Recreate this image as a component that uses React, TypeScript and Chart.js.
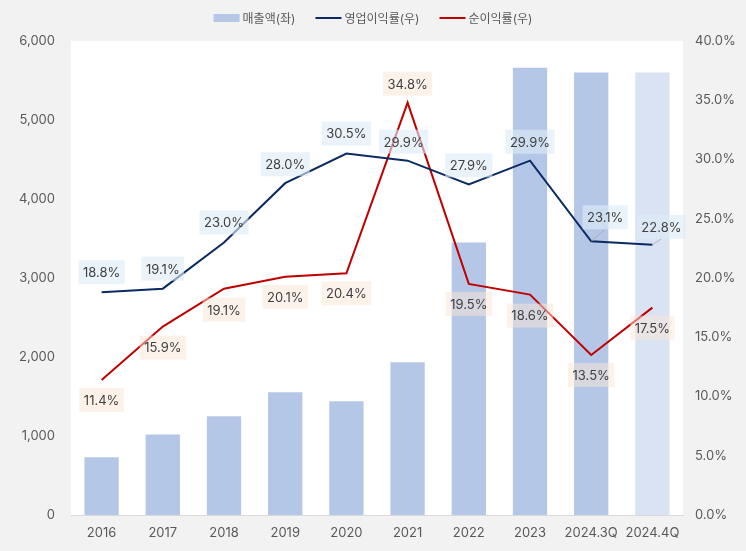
import React, { useEffect, useRef } from "react";
import { Chart, registerables } from "chart.js";

Chart.register(...registerables);

const categories = ["2016", "2017", "2018", "2019", "2020", "2021", "2022", "2023", "2024.3Q", "2024.4Q"];
const sales = [730, 1020, 1250, 1555, 1440, 1935, 3450, 5660, 5600, 5600];
const operatingMargin = [18.8, 19.1, 23.0, 28.0, 30.5, 29.9, 27.9, 29.9, 23.1, 22.8];
const netMargin = [11.4, 15.9, 19.1, 20.1, 20.4, 34.8, 19.5, 18.6, 13.5, 17.5];
const leftTicks = [0, 1000, 2000, 3000, 4000, 5000, 6000];
const rightTicks = [0, 5, 10, 15, 20, 25, 30, 35, 40];

// label placement (dx, dy from point) and leader-line flags
const opLabelOffset: [number, number][] = [
  [0, -20], [0, -20], [0, -20], [0, -19], [0, -20], [-4, -19], [0, -19], [0, -19], [14, -24], [9, -18],
];
const opLeader = [false, false, false, false, false, false, false, false, true, true];
const netLabelOffset: [number, number][] = [
  [0, 20], [0, 21], [0, 21], [0, 20], [0, 20], [0, -19], [0, 20], [0, 21], [0, 20], [0, 20],
];
const netLeader = [false, false, false, false, false, false, false, false, false, false];

const FONT = "Inter, 'Noto Sans CJK KR', 'Noto Sans', sans-serif";
const BAR_COLOR = "#B4C7E7";
const BAR_LIGHT = "#DAE3F3";
const OP_COLOR = "#0B2A63";
const NET_COLOR = "#C00000";

const bgPlugin = {
  id: "bgPlugin",
  beforeDraw(chart: any) {
    const { ctx, chartArea, width, height } = chart;
    ctx.save();
    ctx.fillStyle = "#F2F2F2";
    ctx.fillRect(0, 0, width, height);
    ctx.fillStyle = "#FFFFFF";
    ctx.fillRect(chartArea.left, chartArea.top, chartArea.right - chartArea.left, chartArea.bottom - chartArea.top);
    ctx.restore();
  },
};

const labelPlugin = {
  id: "valueLabels",
  afterDatasetsDraw(chart: any) {
    const ctx = chart.ctx;
    const specs = [
      { idx: 1, offs: opLabelOffset, leader: opLeader, bg: "rgba(222,235,247,0.62)" },
      { idx: 2, offs: netLabelOffset, leader: netLeader, bg: "rgba(251,229,214,0.5)" },
    ];
    ctx.save();
    ctx.font = `13px ${FONT}`;
    ctx.textAlign = "center";
    ctx.textBaseline = "middle";
    specs.forEach((s) => {
      const meta = chart.getDatasetMeta(s.idx);
      const data = chart.data.datasets[s.idx].data as number[];
      meta.data.forEach((pt: any, j: number) => {
        const text = data[j].toFixed(1) + "%";
        const [dx, dy] = s.offs[j];
        const cx = pt.x + dx;
        const cy = pt.y + dy;
        const w = ctx.measureText(text).width + 9;
        const h = 24;
        if (s.leader[j]) {
          ctx.strokeStyle = "#A6A6A6";
          ctx.lineWidth = 0.75;
          ctx.beginPath();
          ctx.moveTo(pt.x, pt.y);
          ctx.lineTo(cx, cy + h / 2);
          ctx.stroke();
        }
        ctx.fillStyle = s.bg;
        ctx.fillRect(cx - w / 2, cy - h / 2, w, h);
        ctx.fillStyle = "#404040";
        ctx.fillText(text, cx, cy + 1);
      });
    });
    ctx.restore();
  },
};

const legendPlugin = {
  id: "customLegend",
  afterDraw(chart: any) {
    const ctx = chart.ctx;
    const items = chart.data.datasets.map((ds: any) => ({
      text: ds.label as string,
      type: ds.type === "line" ? "line" : "rect",
      color: ds.type === "line" ? ds.borderColor : BAR_COLOR,
    }));
    ctx.save();
    ctx.font = `12px ${FONT}`;
    ctx.textBaseline = "middle";
    ctx.textAlign = "left";
    const sw = 26, gap = 3, itemGap = 20;
    const widths = items.map((it: any) => sw + gap + ctx.measureText(it.text).width);
    const total = widths.reduce((a: number, b: number) => a + b, 0) + itemGap * (items.length - 1);
    let x = (chart.width - total) / 2;
    const y = 18;
    items.forEach((it: any, i: number) => {
      if (it.type === "rect") {
        ctx.fillStyle = it.color;
        ctx.fillRect(x, y - 4, sw, 8);
      } else {
        ctx.strokeStyle = it.color;
        ctx.lineWidth = 2;
        ctx.beginPath();
        ctx.moveTo(x, y);
        ctx.lineTo(x + sw, y);
        ctx.stroke();
      }
      ctx.fillStyle = "#595959";
      ctx.fillText(it.text, x + sw + gap, y + 1);
      x += widths[i] + itemGap;
    });
    ctx.restore();
  },
};

export default function App() {
  const ref = useRef<HTMLCanvasElement | null>(null);
  useEffect(() => {
    document.body.style.margin = "0";
    document.body.style.background = "#F2F2F2";
    if (!ref.current) return;
    Chart.defaults.font.family = FONT;
    const chart = new Chart(ref.current, {
      type: "bar",
      data: {
        labels: categories,
        datasets: [
          {
            type: "bar",
            label: "매출액(좌)",
            data: sales,
            backgroundColor: sales.map((_, i) => (i === sales.length - 1 ? BAR_LIGHT : BAR_COLOR)),
            barPercentage: 0.56,
            categoryPercentage: 1,
            yAxisID: "y",
            order: 3,
          },
          {
            type: "line",
            label: "영업이익률(우)",
            data: operatingMargin,
            borderColor: OP_COLOR,
            backgroundColor: OP_COLOR,
            borderWidth: 2,
            pointRadius: 0,
            tension: 0,
            yAxisID: "y1",
            order: 1,
          },
          {
            type: "line",
            label: "순이익률(우)",
            data: netMargin,
            borderColor: NET_COLOR,
            backgroundColor: NET_COLOR,
            borderWidth: 2,
            pointRadius: 0,
            tension: 0,
            yAxisID: "y1",
            order: 2,
          },
        ] as any,
      },
      options: {
        responsive: false,
        animation: false,
        layout: { padding: { top: 41, left: 0, right: 0, bottom: 0 } },
        plugins: { legend: { display: false }, tooltip: { enabled: false } },
        scales: {
          x: {
            grid: { display: false, drawTicks: false },
            border: { display: true, color: "#D9D9D9", width: 1 },
            ticks: { color: "#595959", font: { size: 13 }, padding: 10, maxRotation: 0, autoSkip: false },
            afterFit: (s: any) => { s.height = 36; },
          },
          y: {
            position: "left",
            min: 0,
            max: 6000,
            grid: { display: false, drawTicks: false },
            border: { display: false },
            afterBuildTicks: (s: any) => { s.ticks = leftTicks.map((v) => ({ value: v })); },
            ticks: {
              color: "#595959",
              font: { size: 13 },
              padding: 16,
              callback: (v: any) => Number(v).toLocaleString("en-US"),
            },
            afterFit: (s: any) => { s.width = 71; },
          },
          y1: {
            position: "right",
            min: 0,
            max: 40,
            grid: { display: false, drawTicks: false },
            border: { display: false },
            afterBuildTicks: (s: any) => { s.ticks = rightTicks.map((v) => ({ value: v })); },
            ticks: {
              color: "#595959",
              font: { size: 13 },
              padding: 12,
              callback: (v: any) => Number(v).toFixed(1) + "%",
            },
            afterFit: (s: any) => { s.width = 63; },
          },
        },
      },
      plugins: [bgPlugin, labelPlugin, legendPlugin],
    });
    return () => chart.destroy();
  }, []);
  return (
    <div style={{ width: 746, height: 551 }}>
      <canvas ref={ref} width={746} height={551} style={{ display: "block" }} />
    </div>
  );
}
